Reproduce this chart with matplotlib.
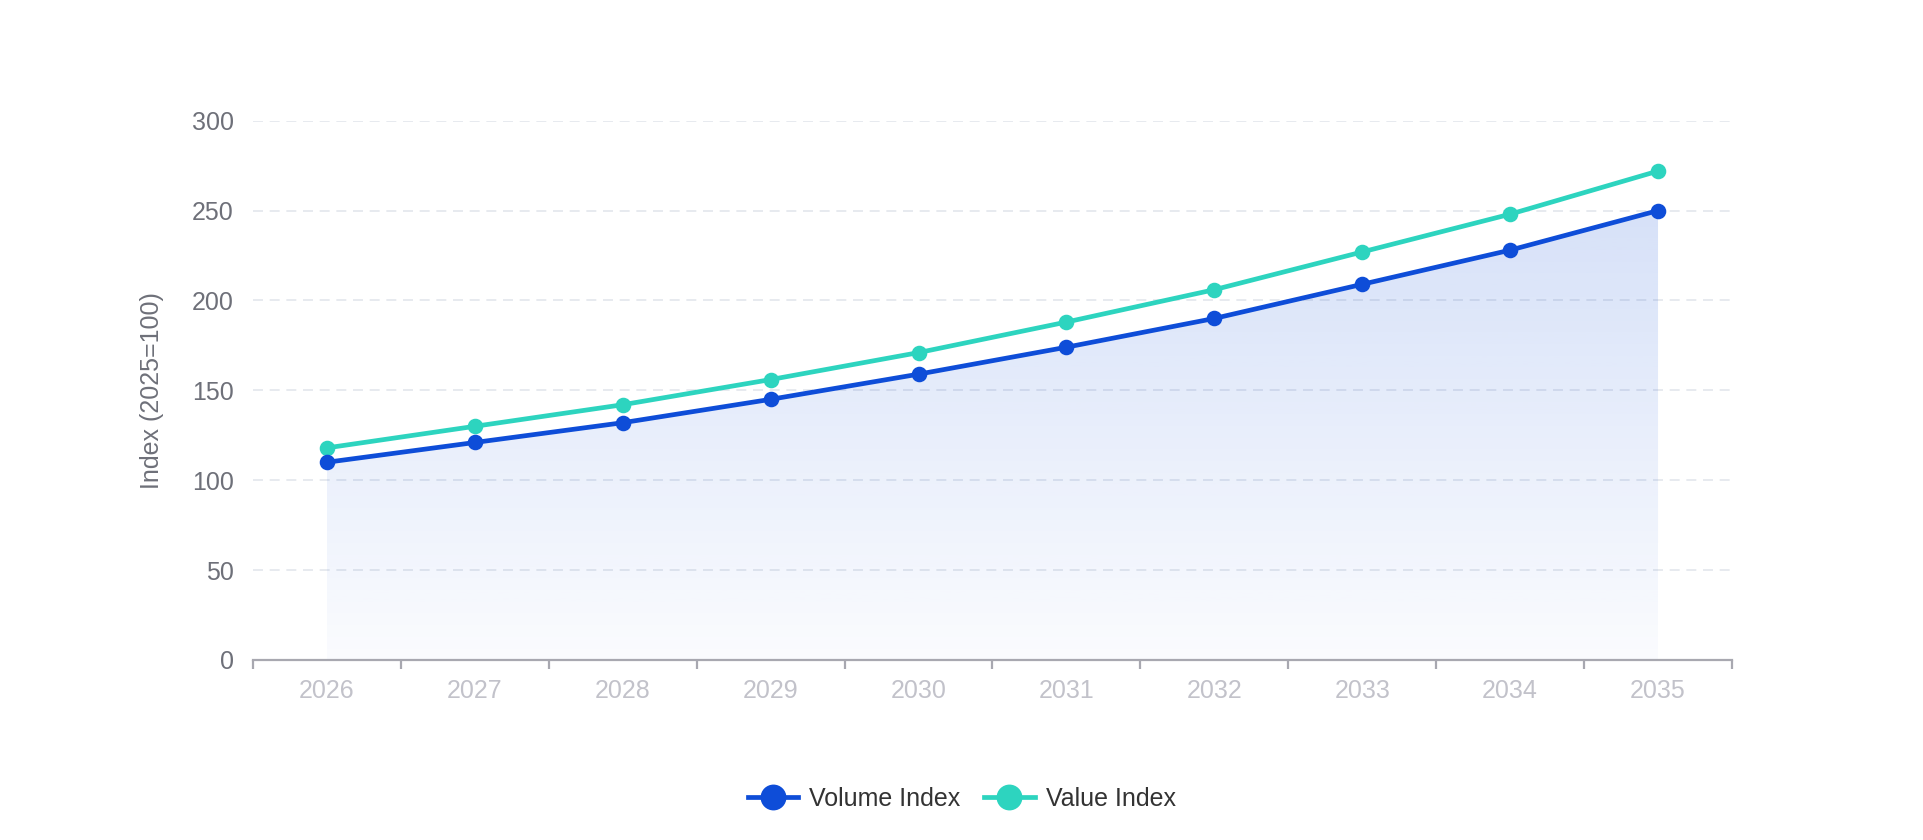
import numpy as np
import matplotlib

matplotlib.use("Agg")

import matplotlib.pyplot as plt
from matplotlib.lines import Line2D

plt.rcParams["font.family"] = ["Liberation Sans", "DejaVu Sans"]

years = ["2026", "2027", "2028", "2029", "2030", "2031", "2032", "2033", "2034", "2035"]
volume_index = [110, 121, 132, 145, 159, 174, 190, 209, 228, 250]
value_index = [118, 130, 142, 156, 171, 188, 206, 227, 248, 272]
y_ticks = [0, 50, 100, 150, 200, 250, 300]

VOLUME_BLUE = "#0E4DD8"
VALUE_TEAL = "#2DD4BF"
AXIS_TEXT = "#6E7079"
X_TEXT = "#C2C2CA"
GRID_COLOR = "#E3E6EC"
AXIS_LINE = "#A8A8B0"

fig = plt.figure(figsize=(9.62, 4.2), dpi=200)
ax = fig.add_axes([0.1315, 0.2143, 0.7687, 0.6420])

x = np.arange(len(years))

# gradient area under the volume line
fill = ax.fill_between(x, volume_index, 0, color="none", linewidth=0)
top = max(volume_index)
grad = np.zeros((256, 1, 4))
rgb = matplotlib.colors.to_rgb(VOLUME_BLUE)
grad[:, 0, 0] = rgb[0]
grad[:, 0, 1] = rgb[1]
grad[:, 0, 2] = rgb[2]
grad[:, 0, 3] = np.linspace(0.17, 0.02, 256)
img = ax.imshow(grad, extent=[x[0], x[-1], 0, top], aspect="auto", origin="upper", zorder=1)
img.set_clip_path(fill.get_paths()[0], transform=ax.transData)

ax.plot(x, volume_index, color=VOLUME_BLUE, linewidth=1.7, marker="o", markersize=4.6,
        solid_capstyle="round", zorder=4)
ax.plot(x, value_index, color=VALUE_TEAL, linewidth=1.7, marker="o", markersize=4.6,
        solid_capstyle="round", zorder=3)

ax.set_xlim(-0.5, len(years) - 0.5)
ax.set_ylim(0, 300)
ax.set_yticks(y_ticks)
ax.set_yticklabels([str(v) for v in y_ticks])
ax.tick_params(axis="y", length=0, pad=7, labelsize=9, labelcolor=AXIS_TEXT)

ax.set_xticks(x)
ax.set_xticklabels(years)
ax.set_xticks(np.arange(len(years) + 1) - 0.5, minor=True)
ax.tick_params(axis="x", which="major", length=0, pad=6.8, labelsize=9, labelcolor=X_TEXT)
ax.tick_params(axis="x", which="minor", length=3.2, width=0.8, color=AXIS_LINE, direction="out")

for v in y_ticks[1:]:
    ax.axhline(v, color=GRID_COLOR, linewidth=0.6, linestyle=(0, (6, 4)), zorder=0)

for side in ["top", "right", "left"]:
    ax.spines[side].set_visible(False)
ax.spines["bottom"].set_color(AXIS_LINE)
ax.spines["bottom"].set_linewidth(0.8)
ax.spines["bottom"].set_zorder(5)

ax.set_ylabel("Index (2025=100)", fontsize=9, color=AXIS_TEXT, labelpad=10)

handles = [
    Line2D([], [], color=VOLUME_BLUE, linewidth=1.7, marker="o", markersize=8.3),
    Line2D([], [], color=VALUE_TEAL, linewidth=1.7, marker="o", markersize=8.3),
]
fig.legend(handles, ["Volume Index", "Value Index"], loc="center",
           bbox_to_anchor=(0.5, 0.049), ncol=2, frameon=False, fontsize=9,
           labelcolor="#333333", handlelength=2.0, handletextpad=0.45,
           columnspacing=0.95)

fig.savefig("out.png", dpi=200, facecolor="white")
